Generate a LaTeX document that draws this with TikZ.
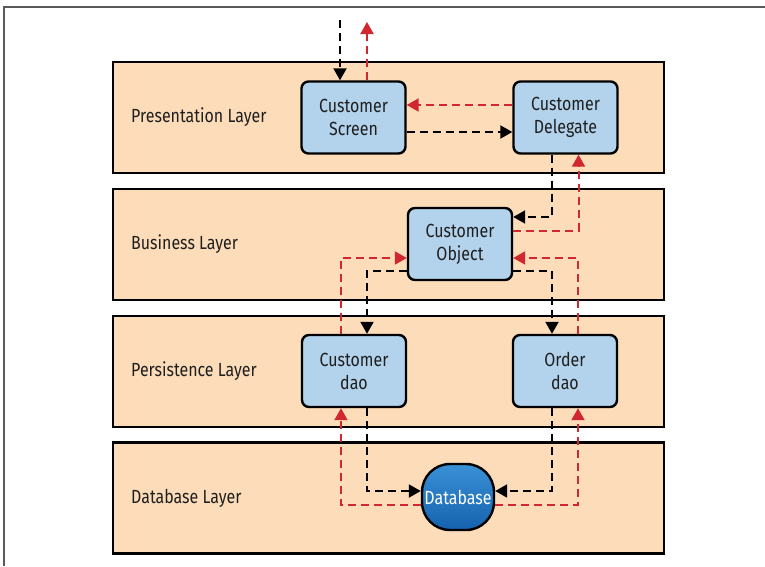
\documentclass[tikz,border=0pt]{standalone}
\usepackage{fontspec}
\setmainfont{Fira Sans}[FakeStretch=0.84]
\usetikzlibrary{arrows.meta}
\definecolor{layerfill}{HTML}{FCDCB9}
\definecolor{boxfill}{HTML}{B3D3EC}
\definecolor{callred}{HTML}{D0282E}
\definecolor{dbtop}{HTML}{3A91D6}
\definecolor{dbbottom}{HTML}{1562AE}
\definecolor{framegray}{HTML}{5A5A5A}

\begin{document}
\begin{tikzpicture}[x=1pt,y=-1pt,
		layer/.style={draw=black, line width=2.4pt, fill=layerfill, minimum width=551pt, minimum height=111pt, inner sep=0pt},
		layername/.style={anchor=west, inner sep=0pt, font=\fontsize{19}{19}\selectfont, text=black!88},
		comp/.style={draw=black, line width=2.4pt, fill=boxfill, rounded corners=7pt, minimum width=104pt, minimum height=72pt, align=center, font=\fontsize{19}{23}\selectfont, text=black!88},
		store/.style={draw=black, line width=2.4pt, top color=dbtop, bottom color=dbbottom, rounded corners=28pt, minimum width=72pt, minimum height=66pt, inner sep=0pt, font=\fontsize{19}{19}\selectfont, text=white},
		call/.style={dash pattern=on 8pt off 5pt, line width=2pt, -{Triangle[length=12pt,width=13pt]}},
		req/.style={call, color=black},
		resp/.style={call, color=callred}]
	\useasboundingbox (0,0) rectangle (765,566);
	\draw[framegray, line width=1.2pt] (4,566) -- (4,7) -- (765,7);

	\node[layer] (pres) at (388.5,117.5) {};
	\node[layer] (bus) at (388.5,244.5) {};
	\node[layer] (pers) at (388.5,371.5) {};
	\node[layer] (dbl) at (388.5,498) {};
	\node[layername] (presname) at (131,117.5) {Presentation Layer};
	\node[layername] (busname) at (131,244.5) {Business Layer};
	\node[layername] (persname) at (131,371.5) {Persistence Layer};
	\node[layername] (dblname) at (131,498) {Database Layer};

	\node[comp] (scr) at (353.5,117.5) {Customer\\Screen};
	\node[comp] (dlg) at (565.5,117.5) {Customer\\Delegate};
	\node[comp] (obj) at (460,244) {Customer\\Object};
	\node[comp] (cdao) at (354,371) {Customer\\dao};
	\node[comp] (odao) at (565,371) {Order\\dao};
	\node[store] (db) at (458,497) {Database};

	\coordinate (in) at (340,20);
	\coordinate (out) at (367,22);

	\draw[req] (in) -- (in |- scr.north);
	\draw[resp] ([xshift=13.5pt]scr.north) -- (out);
	\draw[resp] ([yshift=12.5pt]dlg.west) -- ([yshift=12.5pt]scr.east);
	\draw[req] ([yshift=-14.5pt]scr.east) -- ([yshift=-14.5pt]dlg.west);
	\draw[req] ([xshift=-13.5pt]dlg.south) |- ([yshift=27pt]obj.east);
	\draw[resp] ([yshift=13pt]obj.east) -| ([xshift=13pt]dlg.south);
	\draw[req] ([yshift=-27pt]obj.west) -| ([xshift=13pt]cdao.north);
	\draw[resp] ([xshift=-13pt]cdao.north) |- ([yshift=-14pt]obj.west);
	\draw[req] ([yshift=-27pt]obj.east) -| ([xshift=-13pt]odao.north);
	\draw[resp] ([xshift=13pt]odao.north) |- ([yshift=-14pt]obj.east);
	\draw[req] ([xshift=13pt]cdao.south) |- ([yshift=6pt]db.west);
	\draw[resp] ([yshift=-8pt]db.west) -| ([xshift=-13pt]cdao.south);
	\draw[req] ([xshift=-13pt]odao.south) |- ([yshift=6pt]db.east);
	\draw[resp] ([yshift=-8pt]db.east) -| ([xshift=13pt]odao.south);
\end{tikzpicture}
\end{document}
